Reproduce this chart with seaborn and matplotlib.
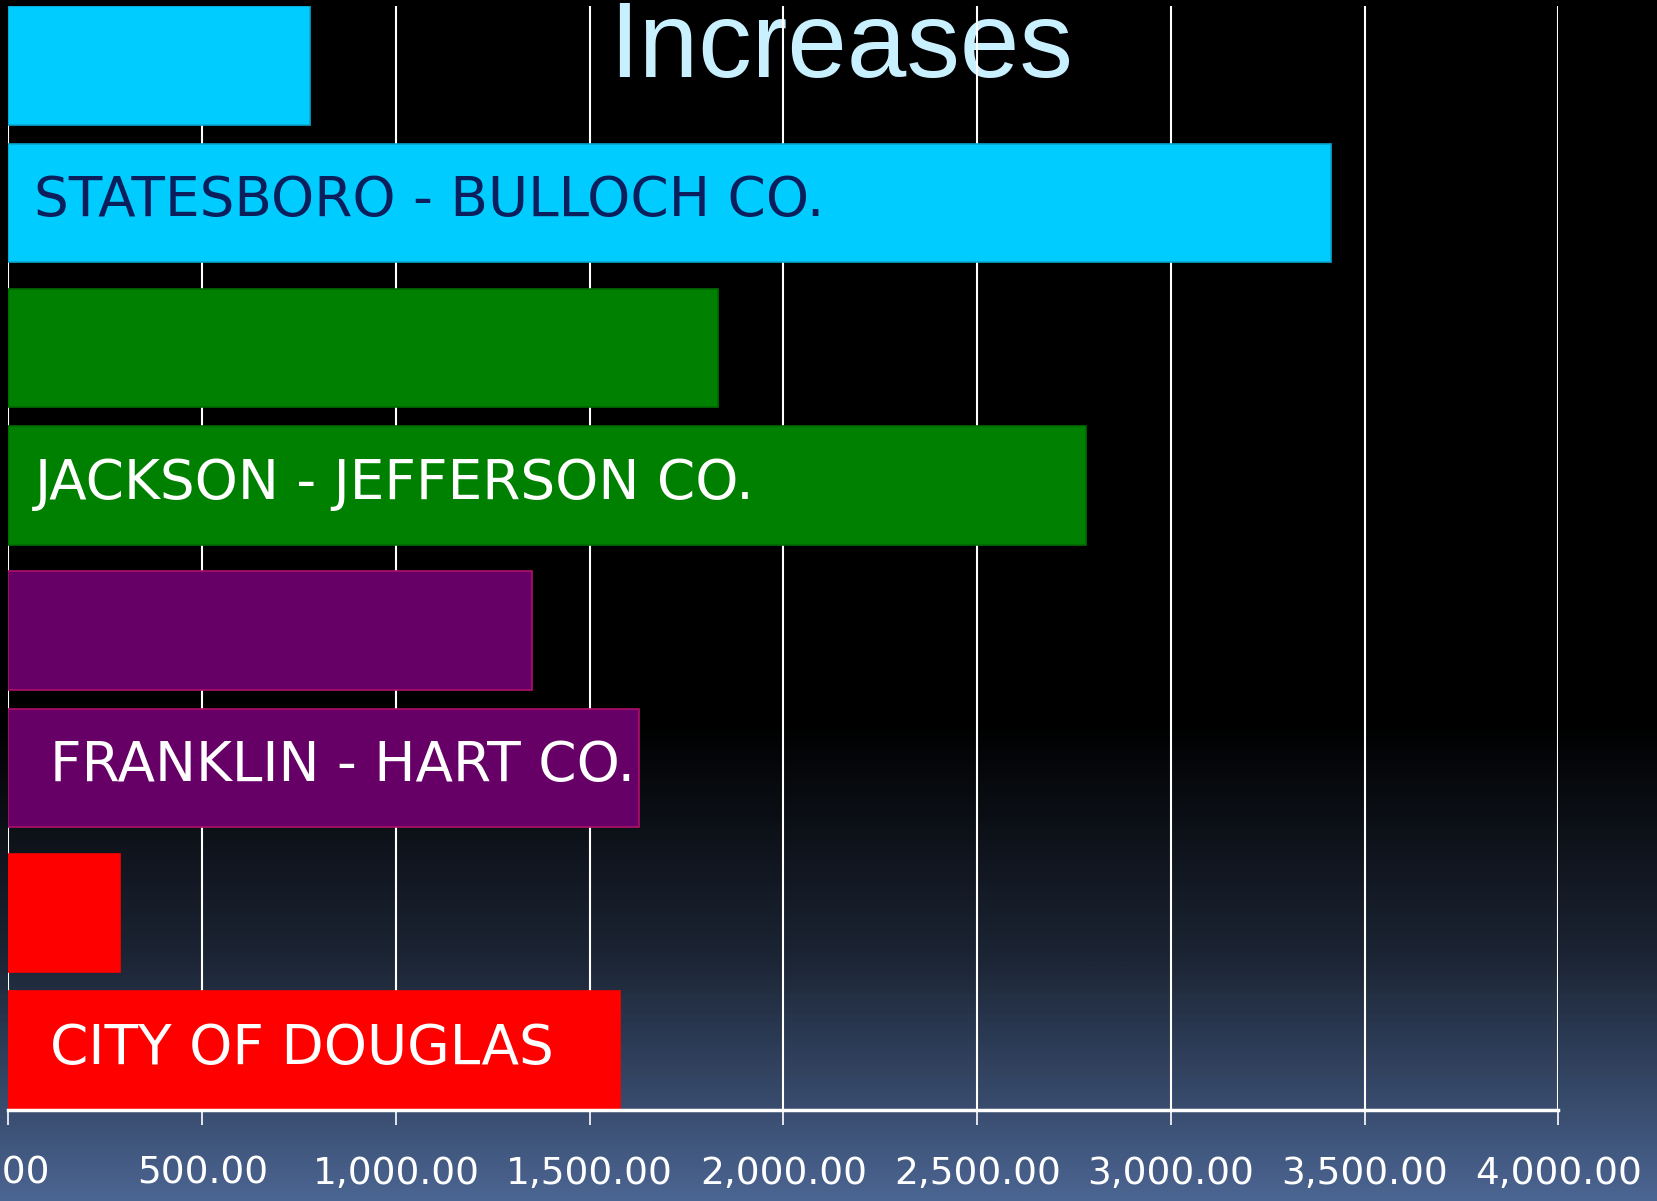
import numpy as np
import pandas as pd
import matplotlib
matplotlib.use("Agg")
import matplotlib.pyplot as plt
from matplotlib.colors import LinearSegmentedColormap
from matplotlib.ticker import StrMethodFormatter
import seaborn as sns

# values (two bars per area, the labelled one is the second)
areas = ["Statesboro - Bulloch Co.", "Jackson - Jefferson Co.",
         "Franklin - Hart Co.", "City of Douglas"]
first_values = [778, 1831, 1351, 287]
second_values = [3413, 2780, 1626, 1577]
periods = ["first", "second"]
bar_labels = ["STATESBORO - BULLOCH CO.", "JACKSON - JEFFERSON CO.",
              "FRANKLIN - HART CO.", "CITY OF DOUGLAS"]
x_ticks = [0, 500, 1000, 1500, 2000, 2500, 3000, 3500, 4000]

# styling
face_colors = ["#00CCFF", "#008000", "#660066", "#FF0000"]
edge_colors = ["#0AA6CF", "#006A00", "#B0106A", "#FF0000"]
label_colors = ["#0A1F5C", "white", "white", "white"]
label_pad = [26, 26, 41, 41]  # pixels from the axis origin

df = pd.DataFrame({
    "area": areas * 2,
    "period": [periods[0]] * len(areas) + [periods[1]] * len(areas),
    "value": first_values + second_values,
})

W, H = 1658, 1201
fig = plt.figure(figsize=(W / 100, H / 100), dpi=100)

# background gradient: black on top, slate blue at the bottom
bg = fig.add_axes([0, 0, 1, 1], zorder=-1)
cmap = LinearSegmentedColormap.from_list(
    "bg", [(0.0, "#000000"), (0.60, "#000000"), (0.80, "#1c2535"), (1.0, "#4b6592")])
grad = np.linspace(0, 1, 512).reshape(-1, 1)
bg.imshow(grad, aspect="auto", cmap=cmap, extent=[0, 1, 1, 0])
bg.set_axis_off()

ax = fig.add_axes([8.5 / W, 1 - 1110 / H, 1550 / W, 1104 / H])
ax.set_facecolor("none")

sns.barplot(data=df, x="value", y="area", hue="period", orient="h",
            width=0.974, gap=0.138, legend=False, ax=ax)

for container in ax.containers:
    for bar, fc, ec in zip(container, face_colors, edge_colors):
        bar.set_facecolor(fc)
        bar.set_edgecolor(ec)
        bar.set_linewidth(1.2)

# fit the y range to the bars themselves
tops = [p.get_y() for p in ax.patches]
bottoms = [p.get_y() + p.get_height() for p in ax.patches]
ax.set_ylim(max(bottoms), min(tops))

# labels inside the second bar of each area
for bar, text, col, pad in zip(ax.containers[1], bar_labels, label_colors, label_pad):
    yc = bar.get_y() + bar.get_height() / 2
    ax.annotate(text, xy=(0, yc), xytext=(pad, 2), textcoords="offset pixels",
                va="center", ha="left", fontsize=39.5, color=col,
                family="DejaVu Sans")

ax.set_xlim(0, 4000)
ax.set_xticks(x_ticks)
ax.xaxis.set_major_formatter(StrMethodFormatter("{x:,.2f}"))
ax.tick_params(axis="x", colors="white", labelcolor="white", length=11,
               width=1.2, pad=22, labelsize=27)
ax.tick_params(axis="y", left=False, labelleft=False)
ax.set_xlabel("")
ax.set_ylabel("")
ax.set_axisbelow(True)
ax.grid(axis="x", color="white", linewidth=1.5)
ax.grid(axis="y", visible=False)
for side in ["top", "right", "left"]:
    ax.spines[side].set_visible(False)
ax.spines["bottom"].set_color("white")
ax.spines["bottom"].set_linewidth(2.5)

# title sits behind the grid lines, partly cut at the top edge
ax.text(841 / W, 1 - 77 / H, "Increases", transform=fig.transFigure,
        ha="center", va="baseline", fontsize=77, color="#C8F0FF",
        family="Liberation Sans", zorder=0.3, clip_on=False)

fig.savefig("out.png", dpi=100)
